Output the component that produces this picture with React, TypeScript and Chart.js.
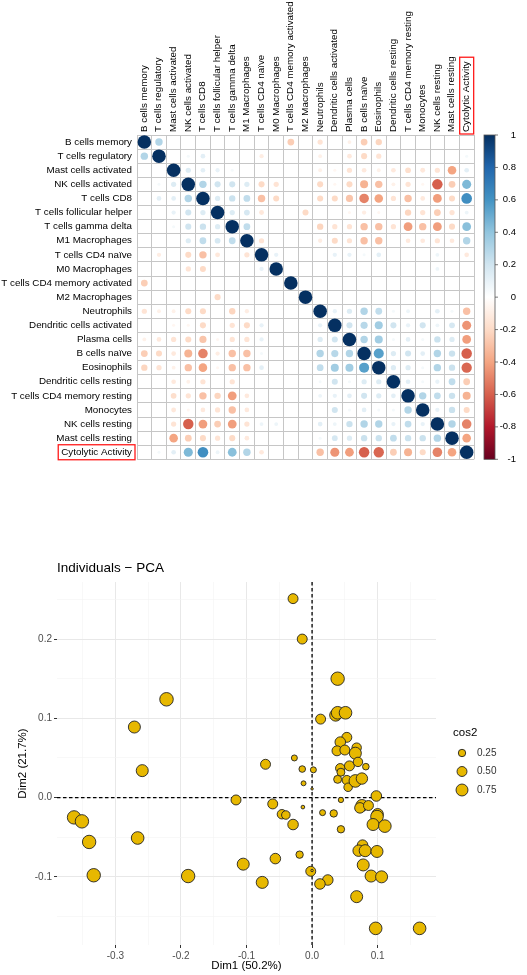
import React, { useEffect, useRef } from "react";
import { Chart, registerables } from "chart.js";

Chart.register(...registerables);

const FONT = "'Liberation Sans', Arial, Helvetica, sans-serif";

// ---------- correlation matrix data ----------
const cellTypes = [
  "B cells memory",
  "T cells regulatory",
  "Mast cells activated",
  "NK cells activated",
  "T cells CD8",
  "T cells follicular helper",
  "T cells gamma delta",
  "M1 Macrophages",
  "T cells CD4 naïve",
  "M0 Macrophages",
  "T cells CD4 memory activated",
  "M2 Macrophages",
  "Neutrophils",
  "Dendritic cells activated",
  "Plasma cells",
  "B cells naïve",
  "Eosinophils",
  "Dendritic cells resting",
  "T cells CD4 memory resting",
  "Monocytes",
  "NK cells resting",
  "Mast cells resting",
  "Cytolytic Activity",
];
const highlightedLabel = "Cytolytic Activity";

// lower triangle: corrLower[i][j] = r(row i, col j) for j < i ; 0 = not shown
const corrLower: number[][] = [
  [],
  [0.3],
  [0, 0],
  [0, 0.05, 0.15],
  [0, 0.12, 0.12, 0.3],
  [0, 0, 0.1, 0.2, 0.15],
  [0, 0, 0.05, 0.2, 0.22, 0.15],
  [0, 0, 0, 0.15, 0.25, 0.18, 0.25],
  [0, -0.1, 0, -0.2, -0.3, -0.13, 0, -0.15],
  [0, 0, 0, -0.15, -0.2, 0, 0, 0, 0.1],
  [-0.25, 0, 0, 0, 0, 0, 0, 0, 0, 0],
  [0, 0, 0, 0, 0, -0.2, 0, 0, 0, 0, 0],
  [-0.15, -0.08, -0.08, -0.2, -0.2, 0, -0.22, -0.1, 0, 0, 0, 0],
  [0, 0, -0.05, -0.05, -0.2, 0, -0.15, -0.2, 0.1, 0, 0, 0, 0.1],
  [-0.08, -0.12, -0.15, -0.2, -0.28, -0.05, -0.15, -0.15, 0.1, 0, 0, 0, 0.15, 0.2],
  [-0.25, -0.2, -0.12, -0.35, -0.5, -0.1, -0.3, -0.3, 0.05, 0, 0, 0, 0.3, 0.28, 0.3],
  [-0.22, -0.15, -0.08, -0.3, -0.4, -0.05, -0.3, -0.3, 0.12, 0, 0, 0, 0.25, 0.35, 0.35, 0.55],
  [0, 0, -0.12, -0.08, -0.15, 0, -0.15, 0, 0, 0, 0, 0, 0.05, 0.2, 0.05, 0.15, 0.15],
  [0, 0, -0.18, -0.15, -0.3, -0.22, -0.42, -0.12, 0, 0, 0, 0, 0.08, 0.1, 0.12, 0.2, 0.15, 0.12],
  [0, 0, -0.13, -0.05, -0.12, -0.15, -0.3, -0.12, 0, 0, 0, 0, 0, 0.2, 0.05, 0.12, 0.05, 0.05, 0.3],
  [0, 0, -0.15, -0.6, -0.42, -0.25, -0.42, -0.15, 0.08, 0.08, 0, 0, 0.12, 0.08, 0.22, 0.3, 0.3, 0.1, 0.25, 0.1],
  [0, 0, -0.4, -0.25, -0.2, -0.15, -0.2, -0.12, 0, 0, 0, 0, 0.05, 0.18, 0.15, 0.22, 0.22, 0.25, 0.22, 0.22, 0.3],
  [0, 0.05, 0.12, 0.45, 0.62, 0.08, 0.42, 0.3, -0.12, 0, 0, 0, -0.3, -0.45, -0.42, -0.6, -0.58, -0.25, -0.35, -0.2, -0.5, -0.4],
];

const colorbarMin = -1;
const colorbarMax = 1;
const colorbarStep = 0.2;

// RdBu palette from r = -1 to r = +1
const rdbuStops = [
  "#67001F", "#B2182B", "#D6604D", "#F4A582", "#FDDBC7", "#FFFFFF",
  "#D1E5F0", "#92C5DE", "#4393C3", "#2166AC", "#053061",
];

// ---------- PCA individuals data ----------
const pcaDim1 = [
  -0.029, -0.015, 0.039, -0.222, 0.036, 0.039, 0.051, 0.013, -0.271, 0.053,
  0.043, 0.068, 0.038, 0.05, 0.066, -0.259, -0.071, -0.027, -0.015, 0.002,
  -0.013, 0.0, 0.043, 0.057, 0.07, 0.082, 0.044, 0.039, 0.053, 0.055,
  0.066, 0.076, 0.098, -0.116, 0.044, -0.06, -0.014, 0.076, 0.073, 0.086,
  -0.363, -0.351, -0.046, -0.04, 0.016, 0.033, 0.1, 0.099, -0.029, 0.093,
  0.111, 0.044, -0.34, -0.266, 0.077, 0.071, 0.081, 0.099, -0.019, -0.056,
  -0.105, 0.078, -0.002, 0.0, -0.333, -0.189, 0.09, 0.106, 0.024, 0.012,
  -0.076, 0.068, 0.097, 0.164,
];
const pcaDim2 = [
  0.251, 0.2, 0.15, 0.124, 0.104, 0.107, 0.107, 0.099, 0.089, 0.076,
  0.07, 0.063, 0.059, 0.06, 0.056, 0.034, 0.042, 0.05, 0.036, 0.035,
  0.018, 0.011, 0.037, 0.04, 0.045, 0.039, 0.032, 0.023, 0.022, 0.013,
  0.021, 0.024, 0.002, -0.003, -0.003, -0.008, -0.012, -0.01, -0.013, -0.01,
  -0.025, -0.03, -0.021, -0.022, -0.019, -0.02, -0.021, -0.024, -0.034, -0.034,
  -0.036, -0.04, -0.056, -0.051, -0.06, -0.067, -0.067, -0.068, -0.072, -0.077,
  -0.084, -0.085, -0.093, -0.092, -0.098, -0.099, -0.099, -0.1, -0.104, -0.109,
  -0.107, -0.125, -0.165, -0.165,
];
const pcaCos2 = [
  0.5, 0.5, 0.97, 0.99, 0.76, 0.85, 0.85, 0.5, 0.76, 0.5,
  0.57, 0.44, 0.5, 0.5, 0.76, 0.76, 0.5, 0.15, 0.19, 0.15,
  0.09, 0.01, 0.44, 0.5, 0.44, 0.19, 0.3, 0.3, 0.44, 0.35,
  0.85, 0.68, 0.57, 0.5, 0.11, 0.5, 0.04, 0.76, 0.57, 0.5,
  0.97, 0.97, 0.44, 0.35, 0.15, 0.25, 0.68, 0.85, 0.57, 0.76,
  0.85, 0.25, 0.97, 0.85, 0.57, 0.68, 0.76, 0.76, 0.25, 0.57,
  0.76, 0.76, 0.5, 0.01, 0.97, 0.97, 0.76, 0.76, 0.57, 0.57,
  0.76, 0.76, 0.85, 0.85,
];
const cos2LegendValues = [0.25, 0.5, 0.75];
const dim1Limits = [-0.389, 0.189];
const dim2Limits = [-0.186, 0.272];
const pcaTitle = "Individuals \u2212 PCA";
const dim1Title = "Dim1 (50.2%)";
const dim2Title = "Dim2 (21.7%)";
const legendTitle = "cos2";

// ---------- helpers ----------
function hexToRgb(h: string) {
  const n = parseInt(h.slice(1), 16);
  return [(n >> 16) & 255, (n >> 8) & 255, n & 255];
}
function corrColor(v: number) {
  const t = ((v + 1) / 2) * (rdbuStops.length - 1);
  const i = Math.max(0, Math.min(Math.floor(t), rdbuStops.length - 2));
  const f = t - i;
  const a = hexToRgb(rdbuStops[i]);
  const b = hexToRgb(rdbuStops[i + 1]);
  const c = a.map((x, k) => Math.round(x + (b[k] - x) * f));
  return `rgb(${c[0]},${c[1]},${c[2]})`;
}
const cos2Radius = (c: number) => 0.6 + 6.2 * Math.sqrt(c);
const GOLD = "#E7B800";

function CorrPlot() {
  const ref = useRef<HTMLCanvasElement>(null);
  useEffect(() => {
    const n = cellTypes.length;
    const points: { x: string; y: string; v: number }[] = [];
    for (let i = 0; i < n; i++) {
      for (let j = 0; j < n; j++) {
        const v = i === j ? 1 : i > j ? corrLower[i][j] || 0 : corrLower[j][i] || 0;
        if (v) points.push({ x: cellTypes[j], y: cellTypes[i], v });
      }
    }
    const labelSize = 9.8;
    const xPad = 3;
    const yPad = 5;

    const decor = {
      id: "corrDecor",
      afterDraw(chart: any) {
        const { ctx, chartArea: area } = chart;
        const cb = chart.scales.cb;
        const top = cb.getPixelForValue(colorbarMax);
        const bottom = cb.getPixelForValue(colorbarMin);
        const left = area.right + 10;
        const w = 11;
        ctx.save();
        const grad = ctx.createLinearGradient(0, top, 0, bottom);
        rdbuStops.forEach((c, k) => grad.addColorStop(1 - k / (rdbuStops.length - 1), c));
        ctx.fillStyle = grad;
        ctx.fillRect(left, top, w, bottom - top);
        ctx.strokeStyle = "#555";
        ctx.lineWidth = 0.8;
        ctx.strokeRect(left, top, w, bottom - top);
        cb.ticks.forEach((t: any) => {
          const y = cb.getPixelForValue(t.value);
          ctx.beginPath();
          ctx.moveTo(left + w, y);
          ctx.lineTo(left + w + 3, y);
          ctx.stroke();
        });
        // red boxes around the highlighted labels
        ctx.font = `${labelSize}px ${FONT}`;
        const tw = ctx.measureText(highlightedLabel).width;
        const k = cellTypes.indexOf(highlightedLabel);
        const px = chart.scales.x.getPixelForValue(k);
        const py = chart.scales.y.getPixelForValue(k);
        ctx.strokeStyle = "#FF1A1A";
        ctx.lineWidth = 1.3;
        ctx.strokeRect(px - 7, area.top - xPad - tw - 4, 14, tw + 6);
        ctx.strokeRect(area.left - yPad - tw - 3, py - 7.5, tw + 6, 15);
        ctx.restore();
      },
    };

    const gridCol = "#C6C6C6";
    const chart = new Chart(ref.current as HTMLCanvasElement, {
      type: "scatter",
      data: {
        datasets: [
          {
            data: points,
            pointRadius: (c: any) => {
              const s = c.chart.scales;
              const cell = Math.min(s.x.width, s.y.height) / n;
              return 0.48 * Math.sqrt(Math.abs(c.raw.v)) * cell;
            },
            pointBackgroundColor: (c: any) => corrColor(c.raw.v),
            pointBorderWidth: 0,
            pointBorderColor: "rgba(0,0,0,0)",
          },
        ],
      },
      options: {
        animation: false,
        responsive: false,
        devicePixelRatio: 1,
        events: [],
        layout: { padding: { top: 0, bottom: 15, left: 0, right: 11 } },
        plugins: { legend: { display: false }, tooltip: { enabled: false } },
        scales: {
          x: {
            type: "category",
            labels: cellTypes,
            position: "top",
            offset: true,
            grid: { offset: true, color: gridCol, lineWidth: 1, drawTicks: false },
            border: { display: false },
            ticks: {
              autoSkip: false,
              minRotation: 90,
              maxRotation: 90,
              padding: xPad,
              labelOffset: 11.5,
              color: "#000",
              font: { family: FONT, size: labelSize },
            },
            afterFit: (s: any) => {
              s.height = 135;
            },
          },
          y: {
            type: "category",
            labels: cellTypes,
            offset: true,
            grid: { offset: true, color: gridCol, lineWidth: 1, drawTicks: false },
            border: { display: false },
            ticks: {
              autoSkip: false,
              padding: yPad,
              color: "#000",
              font: { family: FONT, size: labelSize },
            },
            afterFit: (s: any) => {
              s.width = 137;
            },
          },
          cb: {
            type: "linear",
            position: "right",
            min: colorbarMin,
            max: colorbarMax,
            grid: { display: false, drawTicks: false },
            border: { display: false },
            ticks: {
              stepSize: colorbarStep,
              crossAlign: "far",
              padding: 25,
              color: "#000",
              font: { family: FONT, size: 9.5 },
              callback: (v: any) => String(Math.round(Number(v) * 10) / 10),
            },
            afterFit: (s: any) => {
              s.width = 42;
            },
          },
        },
      } as any,
      plugins: [decor],
    } as any);
    return () => chart.destroy();
  }, []);
  return (
    <canvas
      ref={ref}
      width={527}
      height={490}
      style={{ position: "absolute", left: 0, top: 0, width: 527, height: 490, display: "block" }}
    />
  );
}

function PcaPlot() {
  const ref = useRef<HTMLCanvasElement>(null);
  useEffect(() => {
    const points = pcaDim1.map((x, i) => ({ x, y: pcaDim2[i], c: pcaCos2[i] }));
    const isMajor = (v: number) => Math.abs(v * 10 - Math.round(v * 10)) < 1e-6;
    const fmt = (v: number) => {
      const r = Math.round(v * 10) / 10;
      return (r === 0 ? 0 : r).toFixed(1);
    };
    const gridColor = (c: any) => (isMajor(c.tick.value) ? "#E8E8E8" : "#F3F3F3");
    const gridWidth = (c: any) => (isMajor(c.tick.value) ? 1 : 0.6);
    const tickColor = (c: any) => (isMajor(c.tick.value) ? "#333" : "rgba(0,0,0,0)");
    const tickFont = { family: FONT, size: 10 };

    const decor = {
      id: "pcaDecor",
      beforeDatasetsDraw(chart: any) {
        const { ctx, chartArea: a, scales } = chart;
        const x0 = scales.x.getPixelForValue(0);
        const y0 = scales.y.getPixelForValue(0);
        ctx.save();
        ctx.strokeStyle = "#000";
        ctx.lineWidth = 1.3;
        ctx.setLineDash([3.5, 2.5]);
        ctx.beginPath();
        ctx.moveTo(x0, a.top);
        ctx.lineTo(x0, a.bottom);
        ctx.moveTo(a.left, y0);
        ctx.lineTo(a.right, y0);
        ctx.stroke();
        ctx.restore();
      },
      afterDraw(chart: any) {
        const { ctx, chartArea: a } = chart;
        const mid = (a.top + a.bottom) / 2;
        ctx.save();
        ctx.fillStyle = "#000";
        ctx.font = `11.5px ${FONT}`;
        ctx.textAlign = "left";
        ctx.textBaseline = "middle";
        ctx.fillText(legendTitle, a.right + 17, mid - 30.5);
        cos2LegendValues.forEach((v, k) => {
          const cy = mid - 10.5 + k * 18.5;
          ctx.beginPath();
          ctx.arc(a.right + 26, cy, cos2Radius(v), 0, Math.PI * 2);
          ctx.fillStyle = GOLD;
          ctx.fill();
          ctx.strokeStyle = "#222";
          ctx.lineWidth = 0.9;
          ctx.stroke();
          ctx.fillStyle = "#333";
          ctx.font = `10px ${FONT}`;
          ctx.fillText(v.toFixed(2), a.right + 41, cy);
        });
        ctx.restore();
      },
    };

    const chart = new Chart(ref.current as HTMLCanvasElement, {
      type: "scatter",
      data: {
        datasets: [
          {
            data: points,
            pointRadius: (c: any) => cos2Radius(c.raw.c),
            pointBackgroundColor: GOLD,
            pointBorderColor: "#222",
            pointBorderWidth: 0.9,
          },
        ],
      },
      options: {
        animation: false,
        responsive: false,
        devicePixelRatio: 1,
        events: [],
        layout: { padding: { top: 69.8, right: 91, bottom: 0, left: 0 } },
        plugins: {
          legend: { display: false },
          tooltip: { enabled: false },
          title: {
            display: true,
            text: pcaTitle,
            align: "start",
            fullSize: false,
            color: "#000",
            font: { family: FONT, size: 13.5, weight: "normal" },
            padding: { top: 0, bottom: 6 },
          },
        },
        scales: {
          x: {
            type: "linear",
            min: dim1Limits[0],
            max: dim1Limits[1],
            border: { display: false },
            grid: { color: gridColor, lineWidth: gridWidth, tickColor, tickLength: 3 },
            ticks: {
              stepSize: 0.05,
              includeBounds: false,
              autoSkip: false,
              maxRotation: 0,
              padding: 2,
              color: "#4D4D4D",
              font: tickFont,
              callback: (v: any) => (isMajor(Number(v)) ? fmt(Number(v)) : ""),
            },
            title: {
              display: true,
              text: dim1Title,
              color: "#000",
              font: { family: FONT, size: 11.5 },
              padding: { top: 0, bottom: 2 },
            },
            afterFit: (s: any) => {
              s.height = 30;
            },
          },
          y: {
            type: "linear",
            min: dim2Limits[0],
            max: dim2Limits[1],
            border: { display: false },
            grid: { color: gridColor, lineWidth: gridWidth, tickColor, tickLength: 3 },
            ticks: {
              stepSize: 0.05,
              includeBounds: false,
              autoSkip: false,
              padding: 2,
              color: "#4D4D4D",
              font: tickFont,
              callback: (v: any) => (isMajor(Number(v)) ? fmt(Number(v)) : ""),
            },
            title: {
              display: true,
              text: dim2Title,
              color: "#000",
              font: { family: FONT, size: 11.5 },
              padding: { top: 16, bottom: 0 },
            },
            afterFit: (s: any) => {
              s.width = 57;
            },
          },
        },
      } as any,
      plugins: [decor],
    } as any);
    return () => chart.destroy();
  }, []);
  return (
    <canvas
      ref={ref}
      width={527}
      height={485}
      style={{ position: "absolute", left: 0, top: 490, width: 527, height: 485, display: "block" }}
    />
  );
}

export default function App() {
  return (
    <div style={{ position: "absolute", left: 0, top: 0, width: 527, height: 975, background: "#fff", overflow: "hidden" }}>
      <CorrPlot />
      <PcaPlot />
    </div>
  );
}
